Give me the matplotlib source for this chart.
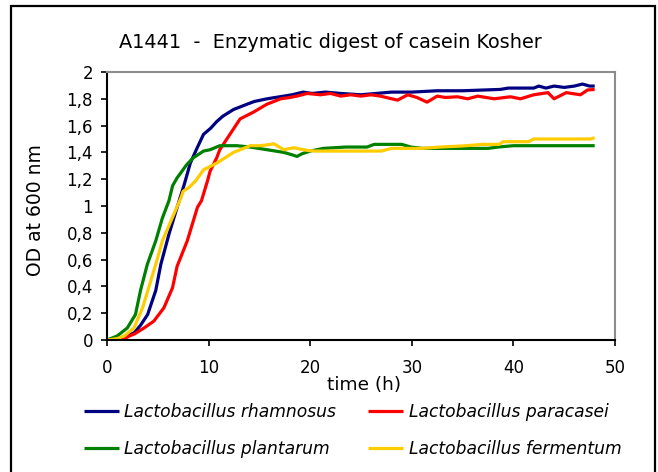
import matplotlib
matplotlib.use("Agg")
import matplotlib.pyplot as plt
from matplotlib.patches import Rectangle
from matplotlib.ticker import FuncFormatter

title = "A1441  -  Enzymatic digest of casein Kosher"
labels = ["Lactobacillus rhamnosus", "Lactobacillus paracasei",
          "Lactobacillus plantarum", "Lactobacillus fermentum"]
colors = ["#000080", "#ff0000", "#008000", "#ffcc00"]

t_rham = [0, 1, 1.7, 2.7, 3.3, 4.0, 4.8, 5.3, 6.1, 6.9, 7.6, 8.2, 8.85, 9.5, 10.2, 10.8,
          11.4, 12.45, 13.8, 14.5, 15.75, 17.4, 18.2, 19.3, 20.2, 21.5, 23, 25, 26.5, 28,
          30, 32.5, 35, 38.7, 39.5, 42, 42.5, 43.2, 44, 45, 46, 46.8, 47.5, 48]
od_rham = [0, 0.01, 0.02, 0.055, 0.11, 0.19, 0.37, 0.565, 0.79, 0.99, 1.16, 1.32, 1.43, 1.535,
           1.58, 1.63, 1.67, 1.72, 1.76, 1.78, 1.80, 1.82, 1.83, 1.85, 1.84, 1.85, 1.84, 1.83,
           1.84, 1.85, 1.85, 1.86, 1.86, 1.87, 1.88, 1.88, 1.895, 1.88, 1.895, 1.885, 1.895,
           1.91, 1.895, 1.895]

t_para = [0, 1.5, 2.2, 2.7, 3.65, 4.6, 5.6, 6.45, 6.9, 7.9, 8.9, 9.3, 9.9, 10.15, 10.8, 11.1,
          12.1, 13.1, 14.4, 15.75, 17.1, 18.0, 18.7, 19.7, 21, 22, 23, 24, 25, 26, 26.9, 28.6,
          29.6, 30.5, 31.5, 32.5, 33.3, 34.5, 35.5, 36.5, 38.1, 39.7, 40.7, 42, 43.4, 44,
          45.2, 46.6, 47.3, 48]
od_para = [0, 0.0, 0.03, 0.045, 0.09, 0.14, 0.24, 0.39, 0.55, 0.74, 0.99, 1.04, 1.19, 1.26,
           1.36, 1.42, 1.535, 1.65, 1.70, 1.76, 1.80, 1.81, 1.82, 1.84, 1.83, 1.84, 1.82, 1.83,
           1.82, 1.83, 1.82, 1.79, 1.83, 1.81, 1.775, 1.82, 1.81, 1.815, 1.80, 1.82, 1.80,
           1.815, 1.80, 1.83, 1.846, 1.80, 1.846, 1.83, 1.866, 1.87]

t_plan = [0, 1, 2, 2.8, 3.3, 3.97, 4.8, 5.45, 6.1, 6.45, 6.9, 7.86, 8.5, 9.5, 10.15, 11.1,
          12.8, 14.1, 15.75, 17.4, 18.3, 18.7, 19.2, 20, 21.3, 23.5, 25.6, 26.3, 29, 29.9,
          31, 37.5, 38.5, 40, 48]
od_plan = [0.0, 0.03, 0.09, 0.19, 0.37, 0.565, 0.74, 0.91, 1.04, 1.15, 1.21, 1.31, 1.36, 1.41,
           1.42, 1.45, 1.45, 1.44, 1.42, 1.40, 1.38, 1.37, 1.39, 1.41, 1.43, 1.44, 1.44, 1.46,
           1.46, 1.44, 1.43, 1.43, 1.44, 1.45, 1.45]

t_ferm = [0, 1, 1.7, 2.66, 3.5, 4.1, 4.8, 5.45, 6.3, 7.27, 7.5, 8.1, 8.75, 9.5, 10.8, 12.45,
          14.1, 15.1, 16.1, 16.4, 17.4, 18.4, 18.7, 19.7, 20.5, 24, 27, 28, 31, 32.8, 35, 37,
          38.6, 39, 41.5, 42, 47.6, 48]
od_ferm = [0, 0.01, 0.03, 0.09, 0.24, 0.39, 0.565, 0.74, 0.89, 1.06, 1.11, 1.14, 1.19, 1.27,
           1.32, 1.40, 1.45, 1.45, 1.46, 1.465, 1.42, 1.435, 1.43, 1.415, 1.41, 1.41, 1.41,
           1.43, 1.43, 1.44, 1.448, 1.46, 1.46, 1.48, 1.48, 1.50, 1.50, 1.51]

series = [(t_rham, od_rham), (t_para, od_para), (t_plan, od_plan), (t_ferm, od_ferm)]

fig = plt.figure(figsize=(6.58, 4.72), dpi=100)
ax = fig.add_axes([107 / 658, 1 - 340 / 472, 508 / 658, 268 / 472])

handles = []
for (t, od), c, lab in zip(series, colors, labels):
    h, = ax.plot(t, od, color=c, lw=2.3, label=lab, solid_capstyle="butt")
    handles.append(h)

ax.set_xlim(0, 50)
ax.set_ylim(0, 2)
ax.set_xticks(range(0, 51, 10))
ax.set_yticks([i / 5 for i in range(11)])
ax.yaxis.set_major_formatter(FuncFormatter(lambda v, p: f"{v:g}".replace(".", ",")))
ax.tick_params(direction="out", length=4, width=1.2, labelsize=12, colors="black")
ax.tick_params(axis="x", pad=10)
ax.tick_params(axis="y", pad=6)
for s in ["left", "bottom"]:
    ax.spines[s].set_color("black")
    ax.spines[s].set_linewidth(1.5)
for s in ["top", "right"]:
    ax.spines[s].set_color("#8c8c8c")
    ax.spines[s].set_linewidth(1.5)

ax.set_xlabel("time (h)", fontsize=13.3)
ax.xaxis.set_label_coords((364 - 107) / 508, (340 - 376) / 268)
ax.set_ylabel("OD at 600 nm", fontsize=13.5)
ax.yaxis.set_label_coords((45 - 107) / 508, 0.485)
fig.text(330 / 658, 1 - 42 / 472, title, ha="center", va="center", fontsize=13.9)

# matplotlib fills legend columns first, so order handles column-wise
order = [0, 2, 1, 3]
fig.legend(handles=[handles[i] for i in order], loc="upper left",
           bbox_to_anchor=(84 / 658, 1 - 403 / 472), ncol=2, frameon=False,
           prop={"style": "italic", "size": 12.3}, handlelength=2.05, borderpad=0,
           borderaxespad=0, handletextpad=0.3, columnspacing=1.9, labelspacing=1.1)

fig.patches.append(Rectangle((11 / 658, -0.05), 644 / 658, 1.05 - 6 / 472,
                             transform=fig.transFigure, fill=False, edgecolor="black",
                             lw=1.6, clip_on=False))

fig.savefig("out.png", dpi=100)
